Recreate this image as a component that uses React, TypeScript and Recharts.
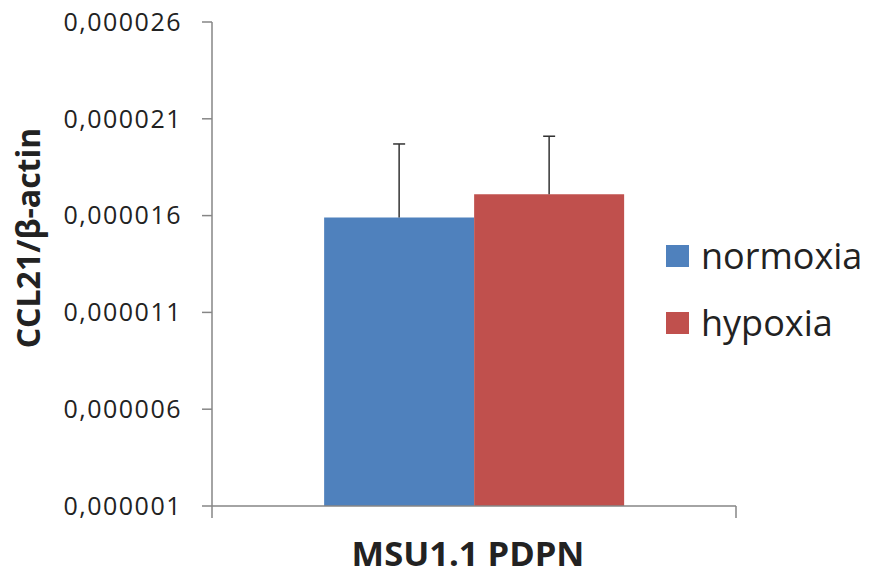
import { BarChart, Bar, XAxis, YAxis, ErrorBar, Legend } from 'recharts';

// values
const categories = ['MSU1.1 PDPN'];
const seriesNames = ['normoxia', 'hypoxia'];
const normoxiaValues = [0.0000159];
const hypoxiaValues = [0.0000171];
const normoxiaErrors = [0.0000038];
const hypoxiaErrors = [0.000003];
const yTicks = [0.000001, 0.000006, 0.000011, 0.000016, 0.000021, 0.000026];

const BLUE = '#4f81bd';
const RED = '#c0504d';
const AXIS = '#868686';
const TEXT = '#222';
const FONT = '"Open Sans", sans-serif';

// error bars only go up: [below, above]
const data = categories.map((name, i) => ({
  name,
  normoxia: normoxiaValues[i],
  hypoxia: hypoxiaValues[i],
  normoxiaErr: [0, normoxiaErrors[i]],
  hypoxiaErr: [0, hypoxiaErrors[i]],
}));

const formatTick = (v: number) => v.toFixed(6).replace('.', ',');

const CategoryTick = (props: any) => {
  const { x, y, payload, width } = props;
  const half = payload.offset || width / 2;
  return (
    <g>
      <line x1={x - half} y1={y} x2={x - half} y2={y + 12} stroke={AXIS} strokeWidth={1.5} />
      <line x1={x + half} y1={y} x2={x + half} y2={y + 12} stroke={AXIS} strokeWidth={1.5} />
      <text x={x - 6} y={y + 60} textAnchor="middle" fontFamily={FONT} fontWeight={700} fontSize={34.5} fill={TEXT}>
        {payload.value}
      </text>
    </g>
  );
};

const YLabel = ({ viewBox }: any) => {
  const cx = viewBox.x + 27;
  const cy = viewBox.y + viewBox.height / 2 - 26;
  return (
    <text
      x={cx}
      y={cy}
      transform={`rotate(-90, ${cx}, ${cy})`}
      textAnchor="middle"
      dominantBaseline="central"
      fontFamily={FONT}
      fontWeight={700}
      fontSize={32}
      fill={TEXT}
    >
      CCL21/β-actin
    </text>
  );
};

const renderLegend = (props: any) => (
  <div style={{ fontFamily: FONT }}>
    {props.payload.map((entry: any) => (
      <div key={entry.value} style={{ display: 'flex', alignItems: 'center', height: 67 }}>
        <span style={{ width: 23, height: 22, background: entry.color, marginRight: 12 }} />
        <span style={{ fontSize: 36, color: TEXT }}>{entry.value}</span>
      </div>
    ))}
  </div>
);

export default function App() {
  return (
    <div style={{ position: 'absolute', left: 0, top: 0, width: 869, height: 575, background: '#fff' }}>
      <style>{`.recharts-errorBar line:nth-child(3) { display: none; }`}</style>
      <BarChart
        width={869}
        height={575}
        data={data}
        margin={{ top: 22, right: 133, bottom: 0, left: 0 }}
        barCategoryGap="21.4%"
        barGap={0}
      >
        <XAxis
          dataKey="name"
          height={69}
          axisLine={{ stroke: AXIS, strokeWidth: 1.5 }}
          tickLine={false}
          tickSize={0}
          tickMargin={0}
          tick={<CategoryTick />}
        />
        <YAxis
          width={212}
          domain={[0.000001, 0.000026]}
          ticks={yTicks}
          tickFormatter={formatTick}
          axisLine={{ stroke: AXIS, strokeWidth: 1.5 }}
          tickLine={{ stroke: AXIS, strokeWidth: 1.5 }}
          tickSize={10}
          tickMargin={20}
          tick={{ fontFamily: FONT, fontSize: 25, letterSpacing: 1.5, fill: TEXT }}
          label={<YLabel />}
        />
        <Legend
          layout="vertical"
          align="center"
          verticalAlign="middle"
          content={renderLegend}
          itemSorter={(item: any) => seriesNames.indexOf(item.value)}
          wrapperStyle={{ left: 666, top: 222, width: 200 }}
        />
        <Bar dataKey="normoxia" name="normoxia" fill={BLUE} isAnimationActive={false}>
          <ErrorBar dataKey="normoxiaErr" direction="y" width={6} stroke="#333" strokeWidth={1.5} />
        </Bar>
        <Bar dataKey="hypoxia" name="hypoxia" fill={RED} isAnimationActive={false}>
          <ErrorBar dataKey="hypoxiaErr" direction="y" width={6} stroke="#333" strokeWidth={1.5} />
        </Bar>
      </BarChart>
    </div>
  );
}
